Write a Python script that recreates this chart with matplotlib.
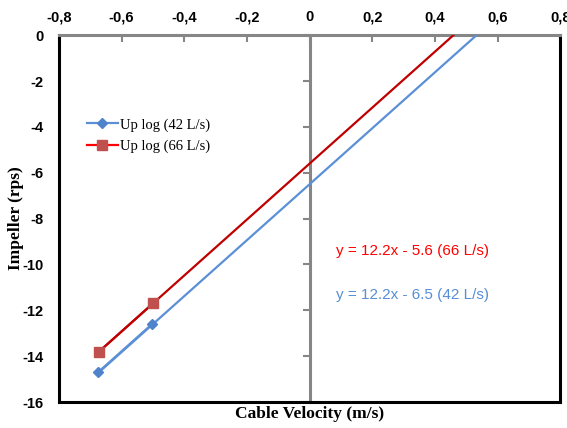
import numpy as np
import matplotlib
matplotlib.use("Agg")
import matplotlib.pyplot as plt
from matplotlib.ticker import FuncFormatter
from matplotlib.lines import Line2D

# Measured points (cable velocity in m/s, impeller in rps)
vel_42 = [-0.675, -0.503]
imp_42 = [-14.7, -12.6]
vel_66 = [-0.672, -0.500]
imp_66 = [-13.8, -11.7]

# Linear fits: slope, intercept
fit_42 = (12.2, -6.5)
fit_66 = (12.2, -5.6)

series_labels = ["Up log (42 L/s)", "Up log (66 L/s)"]
eq_labels = ["y = 12.2x - 6.5 (42 L/s)", "y = 12.2x - 5.6 (66 L/s)"]

x_ticks = [-0.8, -0.6, -0.4, -0.2, 0.0, 0.2, 0.4, 0.6, 0.8]
y_ticks = [0, -2, -4, -6, -8, -10, -12, -14, -16]

blue_line = "#5B8FD6"
blue_marker = "#4F84CC"
red_line = "#C00000"
red_marker = "#C0504D"
gray = "#868686"


def comma_fmt(v, pos):
    if abs(v) < 1e-9:
        return "0"
    return ("%.1f" % v).replace(".", ",")


fig = plt.figure(figsize=(5.67, 4.28), dpi=100)
ax = fig.add_axes([0.104, 0.0607, 0.884, 0.857])
ax.set_xlim(-0.8, 0.8)
ax.set_ylim(-16, 0)

# Trend lines extended from the first point up to the zero crossing
for vx, fit, col in [(vel_42, fit_42, blue_line), (vel_66, fit_66, red_line)]:
    m, b = fit
    xs = np.array([min(vx), -b / m])
    ax.plot(xs, m * xs + b, color=col, lw=1.6, zorder=3)

ax.plot(vel_42, imp_42, color=blue_line, lw=1.6, marker="D", ms=5,
        mfc=blue_marker, mec=blue_marker, zorder=4)
ax.plot(vel_66, imp_66, color=red_line, lw=1.6, marker="s", ms=6.5,
        mfc=red_marker, mec=red_marker, zorder=4)

# Frame: black box, gray x axis at top
for s in ["left", "right", "bottom"]:
    ax.spines[s].set_color("black")
    ax.spines[s].set_linewidth(2.2)
ax.spines["top"].set_color(gray)
ax.spines["top"].set_linewidth(2.2)

ax.xaxis.tick_top()
ax.set_xticks(x_ticks)
ax.xaxis.set_major_formatter(FuncFormatter(comma_fmt))
ax.tick_params(axis="x", direction="in", length=5, width=1.5, color=gray,
               pad=10, labelsize=10.5)

ax.set_yticks(y_ticks)
ax.yaxis.set_major_formatter(FuncFormatter(lambda v, p: "%d" % v))
ax.tick_params(axis="y", length=0, pad=11, labelsize=10.5)

for lab in ax.get_xticklabels() + ax.get_yticklabels():
    lab.set_fontfamily("Liberation Sans")
    lab.set_fontweight("bold")
for lab in ax.get_xticklabels():
    lab.set_verticalalignment("baseline")

# Vertical axis through x = 0 with left-pointing tick marks
ax.axvline(0, color=gray, lw=2.2, zorder=2)
ax.plot([0] * len(y_ticks), y_ticks, ls="none", marker=0, ms=5, mew=1.5,
        color=gray, zorder=2, clip_on=False)

ax.set_xlabel("Cable Velocity (m/s)", fontfamily="Liberation Serif",
              fontweight="bold", fontsize=12.5, labelpad=3)
ax.xaxis.set_label_position("bottom")
ax.set_ylabel("Impeller (rps)", fontfamily="Liberation Serif",
              fontweight="bold", fontsize=12.5, labelpad=-1)

handles = [
    Line2D([], [], color=blue_line, lw=1.6, marker="D", ms=5,
           mfc=blue_marker, mec=blue_marker),
    Line2D([], [], color="#FF0000", lw=1.6, marker="s", ms=6.5,
           mfc=red_marker, mec=red_marker),
]
ax.legend(handles, series_labels, loc="upper left",
          bbox_to_anchor=(0.03, 0.81), frameon=False, handlelength=2.1,
          handletextpad=0.15, labelspacing=0.55,
          prop={"family": "Liberation Serif", "size": 10.5})

ax.text(0.553, 0.411, eq_labels[1], transform=ax.transAxes, color="#FF0000",
        fontsize=11, fontfamily="Liberation Sans", va="center", ha="left")
ax.text(0.553, 0.292, eq_labels[0], transform=ax.transAxes, color="#558ED5",
        fontsize=11, fontfamily="Liberation Sans", va="center", ha="left")

fig.savefig("out.png", dpi=100)
